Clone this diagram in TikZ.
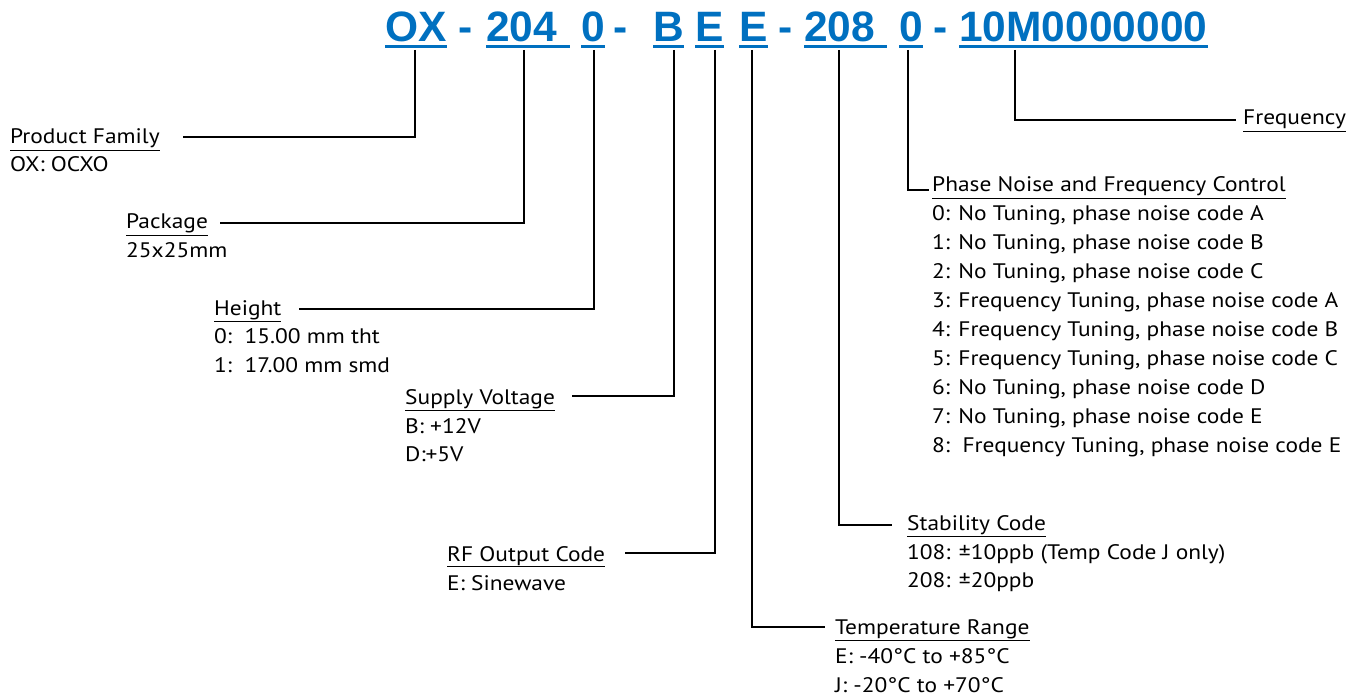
\documentclass[tikz,border=0pt]{standalone}
\usepackage{fontspec}
\setmainfont{PT Sans}[FakeStretch=1.115]
\newfontfamily\hdrfont{Liberation Sans}
\definecolor{hblue}{RGB}{0,112,192}
\begin{document}
\begin{tikzpicture}[x=1pt,y=-1pt,
  hdr/.style={font=\hdrfont\bfseries\fontsize{42.5}{42.5}\selectfont, text=hblue, inner sep=0pt, anchor=base west},
  uline/.style={hblue, line width=3pt},
  txt/.style={font=\fontsize{21}{24}\selectfont, inner sep=0pt, anchor=base west},
  conn/.style={line width=2.2pt}]
\useasboundingbox (0,0) rectangle (1361,698);
% header
\node[hdr] (hOX) at (385,42) {OX};
\node[hdr] (hd1) at (458,42) {-};
\node[hdr] (h204) at (486,42) {204};
\node[hdr] (hH) at (581,42) {0};
\node[hdr] (hd2) at (613,42) {-};
\node[hdr] (hB) at (653,42) {B};
\node[hdr] (hE1) at (695,42) {E};
\node[hdr] (hE2) at (739,42) {E};
\node[hdr] (hd3) at (778,42) {-};
\node[hdr] (h208) at (804,42) {208};
\node[hdr] (hP) at (899,42) {0};
\node[hdr] (hd4) at (933,42) {-};
\node[hdr] (hF) at (959,42) {10M0000000};
\foreach \n/\e in {hOX/0, h204/13, hH/0, hB/0, hE1/0, hE2/0, h208/12, hP/0, hF/0}
  \draw[uline] ([yshift=-4.5pt]\n.base west) -- ([xshift=\e pt,yshift=-4.5pt]\n.base east);
% labels
\node[txt] (pfT) at (10,144) {\underline{Product Family}};
\node[txt] (pfB) at (10,172) {OX: OCXO};
\node[txt] (pkT) at (126,229) {\underline{Package}};
\node[txt] (pkB) at (126,258) {25x25mm};
\node[txt] (htT) at (214,315) {\underline{Height}};
\node[txt] (htB1) at (214,343) {0:\ \ 15.00 mm tht};
\node[txt] (htB2) at (214,372) {1:\ \ 17.00 mm smd};
\node[txt] (svT) at (405,404) {\underline{Supply Voltage}};
\node[txt] (svB1) at (405,433) {B: +12V};
\node[txt] (svB2) at (405,461) {D:+5V};
\node[txt] (rfT) at (447,561) {\underline{RF Output Code}};
\node[txt] (rfB) at (447,590) {E: Sinewave};
\node[txt] (tmT) at (835,634) {\underline{Temperature Range}};
\node[txt] (tmB1) at (835,663) {E: -40°C to +85°C};
\node[txt] (tmB2) at (835,692) {J: -20°C to +70°C};
\node[txt] (stT) at (907,530) {\underline{Stability Code}};
\node[txt] (stB1) at (907,559) {108: ±10ppb (Temp Code J only)};
\node[txt] (stB2) at (907,587) {208: ±20ppb};
\node[txt] (pnT) at (932,192) {\underline{Phase Noise and Frequency Control}};
\foreach \i/\t in {0/{0: No Tuning, phase noise code A},
                   1/{1: No Tuning, phase noise code B},
                   2/{2: No Tuning, phase noise code C},
                   3/{3: Frequency Tuning, phase noise code A},
                   4/{4: Frequency Tuning, phase noise code B},
                   5/{5: Frequency Tuning, phase noise code C},
                   6/{6: No Tuning, phase noise code D},
                   7/{7: No Tuning, phase noise code E},
                   8/{8:\ \ Frequency Tuning, phase noise code E}}
  \node[txt] (pn\i) at (932,220+29*\i) {\t};
\node[txt] (frT) at (1243,125) {\underline{Frequency}};
% connector points
\coordinate (kOX) at (415,50);  \coordinate (ePF) at (183,137);
\coordinate (k204) at (524,50); \coordinate (ePK) at (220,223);
\coordinate (kH) at (594,50);   \coordinate (eHT) at (299,309);
\coordinate (kB) at (674,50);   \coordinate (eSV) at (572,396);
\coordinate (kE1) at (715,50);  \coordinate (eRF) at (625,553);
\coordinate (kE2) at (752,50);  \coordinate (eTM) at (825,627);
\coordinate (k208) at (839,50); \coordinate (eST) at (892,525);
\coordinate (kP) at (908,50);   \coordinate (ePN) at (929,190);
\coordinate (kF) at (1015,50);  \coordinate (eFR) at (1236,120);
\foreach \a/\b in {kOX/ePF,k204/ePK,kH/eHT,kB/eSV,kE1/eRF,kE2/eTM,k208/eST,kP/ePN,kF/eFR}
  \draw[conn] (\a) |- (\b);
\end{tikzpicture}
\end{document}
